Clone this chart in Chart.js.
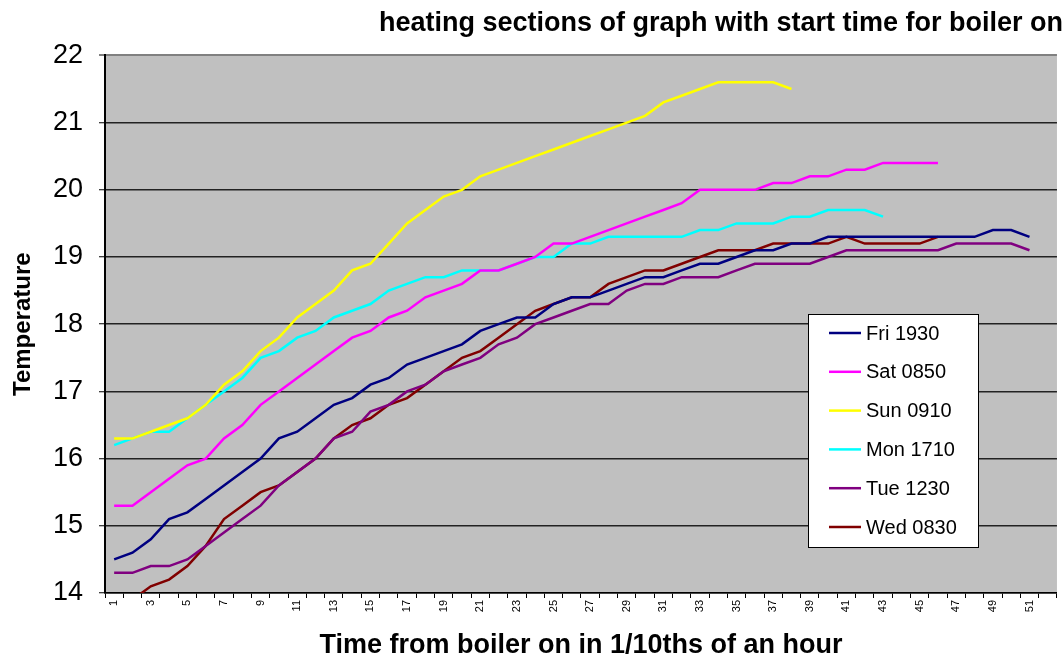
<!DOCTYPE html>
<html>
<head>
<meta charset="utf-8">
<script src="https://cdn.jsdelivr.net/npm/chart.js@4.4.0/dist/chart.umd.min.js"></script>
<style>
  html, body { margin: 0; padding: 0; background: #fff; }
  #wrap { width: 1063px; height: 662px; }
</style>
</head>
<body>
<div id="wrap"><canvas id="myChart" width="1063" height="662"></canvas></div>
<script>
// time steps (1/10ths of an hour after boiler on)
var categories = ['1','2','3','4','5','6','7','8','9','10','11','12','13','14','15','16','17','18','19','20',
  '21','22','23','24','25','26','27','28','29','30','31','32','33','34','35','36','37','38','39','40',
  '41','42','43','44','45','46','47','48','49','50','51','52'];

var seriesNames = ['Fri 1930', 'Sat 0850', 'Sun 0910', 'Mon 1710', 'Tue 1230', 'Wed 0830'];
var seriesColors = ['#000080', '#FF00FF', '#FFFF00', '#00FFFF', '#800080', '#800000'];

var fri1930 = [14.5, 14.6, 14.8, 15.1, 15.2, 15.4, 15.6, 15.8, 16.0, 16.3,
  16.4, 16.6, 16.8, 16.9, 17.1, 17.2, 17.4, 17.5, 17.6, 17.7,
  17.9, 18.0, 18.1, 18.1, 18.3, 18.4, 18.4, 18.5, 18.6, 18.7,
  18.7, 18.8, 18.9, 18.9, 19.0, 19.1, 19.1, 19.2, 19.2, 19.3,
  19.3, 19.3, 19.3, 19.3, 19.3, 19.3, 19.3, 19.3, 19.4, 19.4,
  19.3];
var sat0850 = [15.3, 15.3, 15.5, 15.7, 15.9, 16.0, 16.3, 16.5, 16.8, 17.0,
  17.2, 17.4, 17.6, 17.8, 17.9, 18.1, 18.2, 18.4, 18.5, 18.6,
  18.8, 18.8, 18.9, 19.0, 19.2, 19.2, 19.3, 19.4, 19.5, 19.6,
  19.7, 19.8, 20.0, 20.0, 20.0, 20.0, 20.1, 20.1, 20.2, 20.2,
  20.3, 20.3, 20.4, 20.4, 20.4, 20.4];
var sun0910 = [16.3, 16.3, 16.4, 16.5, 16.6, 16.8, 17.1, 17.3, 17.6, 17.8,
  18.1, 18.3, 18.5, 18.8, 18.9, 19.2, 19.5, 19.7, 19.9, 20.0,
  20.2, 20.3, 20.4, 20.5, 20.6, 20.7, 20.8, 20.9, 21.0, 21.1,
  21.3, 21.4, 21.5, 21.6, 21.6, 21.6, 21.6, 21.5];
var mon1710 = [16.2, 16.3, 16.4, 16.4, 16.6, 16.8, 17.0, 17.2, 17.5, 17.6,
  17.8, 17.9, 18.1, 18.2, 18.3, 18.5, 18.6, 18.7, 18.7, 18.8,
  18.8, 18.8, 18.9, 19.0, 19.0, 19.2, 19.2, 19.3, 19.3, 19.3,
  19.3, 19.3, 19.4, 19.4, 19.5, 19.5, 19.5, 19.6, 19.6, 19.7,
  19.7, 19.7, 19.6];
var tue1230 = [14.3, 14.3, 14.4, 14.4, 14.5, 14.7, 14.9, 15.1, 15.3, 15.6,
  15.8, 16.0, 16.3, 16.4, 16.7, 16.8, 17.0, 17.1, 17.3, 17.4,
  17.5, 17.7, 17.8, 18.0, 18.1, 18.2, 18.3, 18.3, 18.5, 18.6,
  18.6, 18.7, 18.7, 18.7, 18.8, 18.9, 18.9, 18.9, 18.9, 19.0,
  19.1, 19.1, 19.1, 19.1, 19.1, 19.1, 19.2, 19.2, 19.2, 19.2,
  19.1];
var wed0830 = [13.8, 13.9, 14.1, 14.2, 14.4, 14.7, 15.1, 15.3, 15.5, 15.6,
  15.8, 16.0, 16.3, 16.5, 16.6, 16.8, 16.9, 17.1, 17.3, 17.5,
  17.6, 17.8, 18.0, 18.2, 18.3, 18.4, 18.4, 18.6, 18.7, 18.8,
  18.8, 18.9, 19.0, 19.1, 19.1, 19.1, 19.2, 19.2, 19.2, 19.2,
  19.3, 19.2, 19.2, 19.2, 19.2, 19.3];

var yTicks = [14, 15, 16, 17, 18, 19, 20, 21, 22];

var allSeries = [fri1930, sat0850, sun0910, mon1710, tue1230, wed0830];
var datasets = allSeries.map(function(values, i) {
  return {
    label: seriesNames[i],
    data: values,
    borderColor: seriesColors[i],
    backgroundColor: seriesColors[i],
    borderWidth: 2.5,
    pointRadius: 0,
    pointHoverRadius: 0,
    tension: 0,
    fill: false
  };
});

// grey plot area
var plotBg = {
  id: 'plotBg',
  beforeDraw: function(chart) {
    var a = chart.chartArea, ctx = chart.ctx;
    ctx.save();
    ctx.fillStyle = '#C0C0C0';
    ctx.fillRect(a.left, a.top, a.right - a.left, a.bottom - a.top);
    ctx.restore();
  }
};

// boxed legend sitting inside the plot
var boxLegend = {
  id: 'boxLegend',
  afterDraw: function(chart) {
    var ctx = chart.ctx;
    var x = 808, y = 314, w = 170, h = 233;
    ctx.save();
    ctx.fillStyle = '#fff';
    ctx.fillRect(x, y, w, h);
    ctx.strokeStyle = '#000';
    ctx.lineWidth = 1;
    ctx.strokeRect(x + 0.5, y + 0.5, w, h);
    ctx.font = '20px "Liberation Sans", Arial, sans-serif';
    ctx.textBaseline = 'middle';
    ctx.fillStyle = '#000';
    chart.data.datasets.forEach(function(ds, i) {
      var ly = y + 19 + i * 38.8;
      ctx.strokeStyle = ds.borderColor;
      ctx.lineWidth = 2.5;
      ctx.beginPath();
      ctx.moveTo(829, ly);
      ctx.lineTo(861, ly);
      ctx.stroke();
      ctx.fillText(ds.label, 866, ly + 1);
    });
    ctx.restore();
  }
};

var ctx = document.getElementById('myChart').getContext('2d');
var chart = new Chart(ctx, {
  type: 'line',
  data: { labels: categories, datasets: datasets },
  plugins: [plotBg, boxLegend],
  options: {
    responsive: false,
    animation: false,
    layout: { padding: { left: 0, right: 0, top: 0, bottom: 0 } },
    plugins: {
      legend: { display: false },
      tooltip: { enabled: false },
      title: {
        display: true,
        text: 'heating sections of graph with start time for boiler on',
        align: 'end',
        color: '#000',
        font: { family: '"Liberation Sans", Arial, sans-serif', size: 27, weight: 'bold' },
        padding: { top: 7, bottom: 16 }
      }
    },
    scales: {
      x: {
        offset: true,
        afterFit: function(s) { s.height = 69; },
        grid: {
          offset: true,
          drawOnChartArea: false,
          drawTicks: true,
          tickLength: 5,
          tickColor: '#000',
          tickWidth: 1
        },
        border: { display: true, color: '#000', width: 1.5 },
        ticks: {
          autoSkip: false,
          minRotation: 90,
          maxRotation: 90,
          padding: 2,
          color: '#000',
          font: { family: '"Liberation Sans", Arial, sans-serif', size: 11 },
          callback: function(val, idx) {
            return idx % 2 === 0 ? categories[idx] : '';
          }
        },
        title: {
          display: true,
          text: 'Time from boiler on in 1/10ths of an hour',
          color: '#000',
          font: { family: '"Liberation Sans", Arial, sans-serif', size: 27, weight: 'bold' },
          padding: { top: 0, bottom: 0 }
        }
      },
      y: {
        min: 14,
        max: 22,
        afterFit: function(s) { s.width = 105; },
        afterBuildTicks: function(s) {
          s.ticks = yTicks.map(function(v) { return { value: v }; });
        },
        grid: {
          color: function(c) { return c.tick && c.tick.value === 22 ? '#808080' : '#222'; },
          lineWidth: function(c) { return c.tick && c.tick.value === 22 ? 2 : 1.5; },
          drawTicks: true,
          tickLength: 6,
          tickColor: '#000',
          tickWidth: 1
        },
        border: { display: true, color: '#000', width: 2 },
        ticks: {
          padding: 16,
          color: '#000',
          font: { family: '"Liberation Sans", Arial, sans-serif', size: 27 }
        },
        title: {
          display: true,
          text: 'Temperature',
          color: '#000',
          font: { family: '"Liberation Sans", Arial, sans-serif', size: 24, weight: 'bold' },
          padding: { top: 9, bottom: 0 }
        }
      }
    }
  }
});
</script>
</body>
</html>
